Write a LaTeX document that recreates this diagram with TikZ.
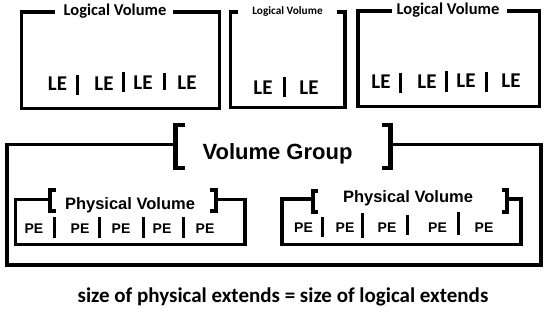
\documentclass[tikz,border=0pt]{standalone}
\usepackage{fontspec}
\newfontfamily\calfont{Carlito}
\newfontfamily\arfont{Liberation Sans}
\begin{document}
\begin{tikzpicture}[x=1pt,y=-1pt,
  box/.style={line width=3.6pt, line join=miter},
  brk/.style={line width=4.5pt, line join=miter},
  pvbrk/.style={line width=3.8pt, line join=miter},
  sepbar/.style={line width=3pt},
  lvtitle/.style={font=\calfont\bfseries\fontsize{16.5}{18}\selectfont, inner sep=0pt, anchor=base},
  lvsmall/.style={font=\calfont\bfseries\fontsize{11.3}{13}\selectfont, inner sep=0pt, anchor=base},
  le/.style={font=\calfont\bfseries\fontsize{21}{23}\selectfont, inner sep=0pt, anchor=base},
  vgtitle/.style={font=\arfont\bfseries\fontsize{22}{24}\selectfont, inner sep=0pt, anchor=base},
  pvtitle/.style={font=\arfont\bfseries\fontsize{16.5}{18}\selectfont, inner sep=0pt, anchor=base},
  pe/.style={font=\arfont\bfseries\fontsize{14}{16}\selectfont, inner sep=0pt, anchor=base},
  note/.style={font=\calfont\bfseries\fontsize{21}{23}\selectfont, inner sep=0pt, anchor=base}
]
\useasboundingbox[fill=white] (0,0) rectangle (550,318);

% ---------- Logical Volume 1 ----------
\node[lvtitle] (lv1) at (115,16) {Logical Volume};
\draw[box] (55,12) -- (21.5,12) -- (21.5,108.5) -- (219.5,108.5) -- (219.5,12) -- (173,12);
\node[le] (le11) at (57.5,91) {LE};
\node[le] (le12) at (104,91) {LE};
\node[le] (le13) at (143,90) {LE};
\node[le] (le14) at (187,90) {LE};
\draw[sepbar] (77,75) -- (77,95);
\draw[sepbar] (123,72) -- (123,92);
\draw[sepbar] (164,73) -- (164,90);

% ---------- Logical Volume 2 ----------
\node[lvsmall] (lv2) at (287.5,15) {Logical Volume};
\draw[box] (238,12) -- (230.5,12) -- (230.5,107.5) -- (345,107.5) -- (345,12) -- (337,12);
\node[le] (le21) at (263,95) {LE};
\node[le] (le22) at (309,95) {LE};
\draw[sepbar] (284,77) -- (284,97);

% ---------- Logical Volume 3 ----------
\node[lvtitle] (lv3) at (448,15) {Logical Volume};
\draw[box] (392,11) -- (358,11) -- (358,106.5) -- (539.5,106.5) -- (539.5,11) -- (507,11);
\node[le] (le31) at (381,89) {LE};
\node[le] (le32) at (427,89) {LE};
\node[le] (le33) at (466,88) {LE};
\node[le] (le34) at (511,88) {LE};
\draw[sepbar] (400,73) -- (400,93);
\draw[sepbar] (446,71) -- (446,92);
\draw[sepbar] (486,72) -- (486,92);

% ---------- Volume Group ----------
\node[vgtitle] (vg) at (277.5,160) {Volume Group};
\draw[box] (175.5,144.5) -- (7,144.5) -- (7,265) -- (541,265) -- (541,144.5) -- (390.5,144.5);
\draw[brk] (185,125) -- (175.5,125) -- (175.5,168) -- (185,168);
\draw[brk] (382,125) -- (390.5,125) -- (390.5,168) -- (382,168);

% ---------- Physical Volume 1 ----------
\node[pvtitle] (pv1) at (130,210) {Physical Volume};
\draw[box] (50,199.5) -- (15.5,199.5) -- (15.5,244.5) -- (245,244.5) -- (245,199.5) -- (216,199.5);
\draw[pvbrk] (56,190) -- (50,190) -- (50,211) -- (56,211);
\draw[pvbrk] (210,190) -- (216,190) -- (216,211) -- (210,211);
\node[pe] (pe11) at (34,234) {PE};
\node[pe] (pe12) at (80,234) {PE};
\node[pe] (pe13) at (121,234) {PE};
\node[pe] (pe14) at (162,234) {PE};
\node[pe] (pe15) at (205,234) {PE};
\draw[sepbar] (54,217) -- (54,238);
\draw[sepbar] (99,217) -- (99,238);
\draw[sepbar] (143,217) -- (143,238);
\draw[sepbar] (183,217) -- (183,238);

% ---------- Physical Volume 2 ----------
\node[pvtitle] (pv2) at (408,203) {Physical Volume};
\draw[box] (313,199) -- (282,199) -- (282,244.5) -- (521,244.5) -- (521,199) -- (507,199);
\draw[pvbrk] (318,191) -- (313,191) -- (313,212) -- (318,212);
\draw[pvbrk] (502,190) -- (507,190) -- (507,212) -- (502,212);
\node[pe] (pe21) at (303.5,233) {PE};
\node[pe] (pe22) at (345,233) {PE};
\node[pe] (pe23) at (387,233) {PE};
\node[pe] (pe24) at (437.5,233) {PE};
\node[pe] (pe25) at (484,233) {PE};
\draw[sepbar] (322,217) -- (322,237);
\draw[sepbar] (362,213) -- (362,238);
\draw[sepbar] (407,215) -- (407,235);
\draw[sepbar] (458,212) -- (458,235);

% ---------- note ----------
\node[note] (note) at (283,303) {size of physical extends = size of logical extends};
\end{tikzpicture}
\end{document}
